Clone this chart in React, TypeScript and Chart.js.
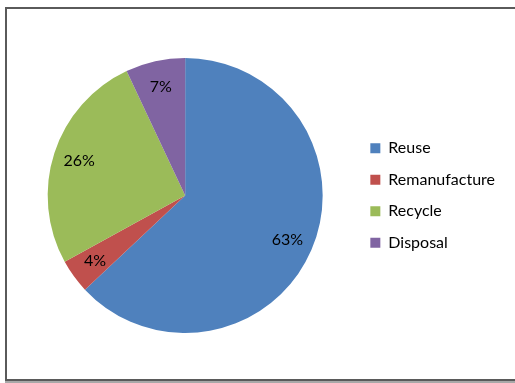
import React, { useEffect, useRef } from "react";
import { Chart, registerables } from "chart.js";

Chart.register(...registerables);

const categories = ["Reuse", "Remanufacture", "Recycle", "Disposal"];
const values = [63, 4, 26, 7];
const colors = ["#4F81BD", "#C0504D", "#9BBB59", "#8064A2"];

const FONT = "Lato, 'Open Sans', sans-serif";

const pctLabels = {
  id: "pctLabels",
  afterDatasetsDraw(chart: any) {
    const ctx = chart.ctx;
    const meta = chart.getDatasetMeta(0);
    const total = values.reduce((a, b) => a + b, 0);
    ctx.save();
    ctx.font = `16px ${FONT}`;
    ctx.fillStyle = "#000000";
    ctx.textAlign = "center";
    ctx.textBaseline = "middle";
    meta.data.forEach((arc: any, i: number) => {
      const p = arc.getProps(["x", "y", "startAngle", "endAngle", "outerRadius"], true);
      const mid = (p.startAngle + p.endAngle) / 2;
      const r = p.outerRadius * 0.81;
      const x = p.x + Math.cos(mid) * r;
      const y = p.y + Math.sin(mid) * r;
      ctx.fillText(`${Math.round((values[i] / total) * 100)}%`, x, y);
    });
    ctx.restore();
  },
};

export default function App() {
  const ref = useRef<HTMLCanvasElement>(null);
  useEffect(() => {
    if (!ref.current) return;
    const chart = new Chart(ref.current, {
      type: "pie",
      data: {
        labels: categories,
        datasets: [
          {
            data: values,
            backgroundColor: colors,
            borderWidth: 0,
          },
        ],
      },
      options: {
        responsive: false,
        animation: false,
        layout: { padding: { left: 15.5, top: 58, bottom: 50, right: 10 } },
        plugins: {
          tooltip: { enabled: false },
          legend: {
            position: "right",
            labels: {
              boxWidth: 10,
              boxHeight: 10,
              padding: 15.5,
              color: "#000000",
              font: { family: FONT, size: 16 },
            },
          },
        },
      },
      plugins: [pctLabels],
    });
    return () => chart.destroy();
  }, []);
  return (
    <div style={{ position: "fixed", left: 0, top: 0, width: 515, height: 383, background: "#fff", overflow: "hidden" }}>
      <div
        style={{
          position: "absolute",
          left: 5,
          top: 7,
          width: 530,
          height: 370,
          border: "2px solid #5a5a5a",
          boxShadow: "1px 1px 0 1px #a8a8a8",
        }}
      />
      <canvas ref={ref} width={515} height={383} style={{ position: "absolute", left: 0, top: 0 }} />
    </div>
  );
}
